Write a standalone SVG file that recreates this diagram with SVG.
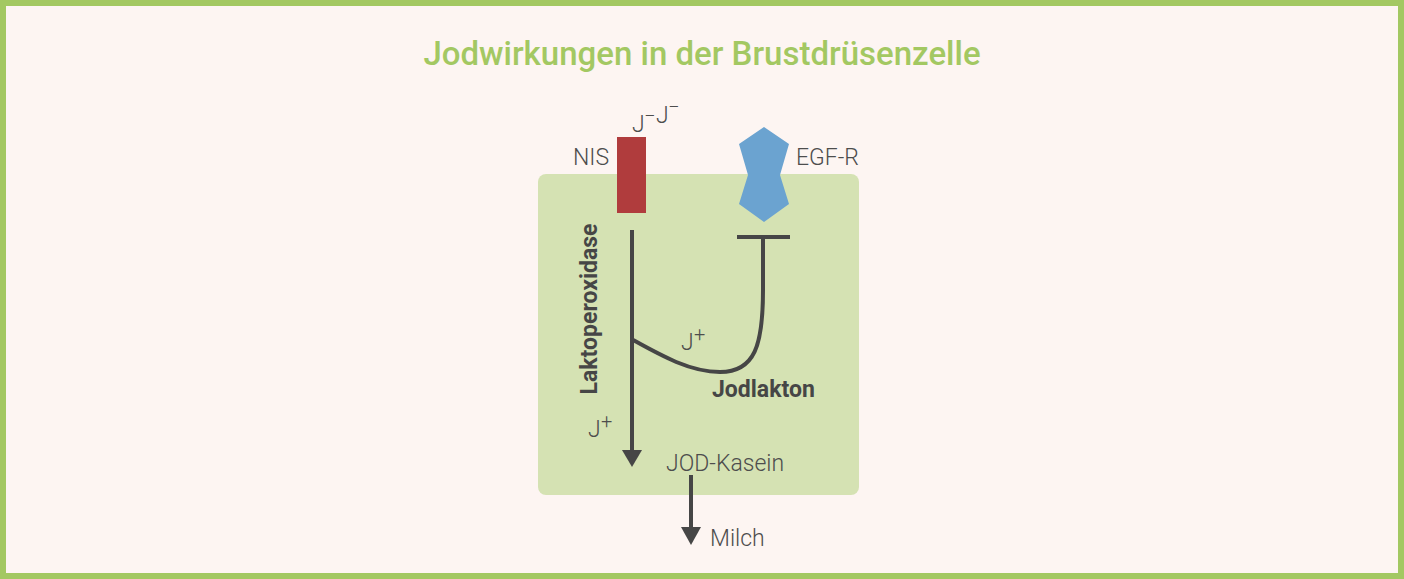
<svg xmlns="http://www.w3.org/2000/svg" width="1404" height="579" viewBox="0 0 1404 579">
<defs>
<style>
.t{font-family:Roboto,"Liberation Sans",sans-serif;font-size:23px;fill:#4d4d4d;font-weight:300}
.b{font-family:Roboto,"Liberation Sans",sans-serif;font-size:23px;fill:#464646;font-weight:700}
.sup{font-size:20px}
.ln{fill:none;stroke:#464646;stroke-width:4}
</style>
</defs>
<rect x="3" y="3" width="1398" height="573" fill="#fdf5f2" stroke="#a3c862" stroke-width="6"/>
<text x="702" y="65" text-anchor="middle" style="font-family:Roboto,'Liberation Sans',sans-serif;font-size:33px;font-weight:500;fill:#a3c862">Jodwirkungen in der Brustdrüsenzelle</text>
<g id="cell"><rect x="538" y="174" width="321" height="321" rx="8" fill="#d5e2b3"/></g>
<g id="nis">
<rect x="617" y="137" width="29" height="76" fill="#b03c3d"/>
<text class="t" x="573" y="165">NIS</text>
<text class="t" x="632" y="132">J</text><text class="t sup" x="644" y="123">−</text>
<text class="t" x="656" y="123">J</text><text class="t sup" x="668" y="114">−</text>
</g>
<g id="egfr">
<polygon points="764,127 789,144 780,175 789,204 764,222 739,204 748,175 739,144" fill="#6ba3d0"/>
<text class="t" x="796" y="165">EGF-R</text>
</g>
<g id="labels">
<text class="b" transform="translate(597,309) rotate(-90)" text-anchor="middle">Laktoperoxidase</text>
<text class="t" x="681" y="350">J</text><text class="t sup" x="694" y="341">+</text>
<text class="b" x="712" y="397">Jodlakton</text>
<text class="t" x="588" y="437">J</text><text class="t sup" x="601" y="428">+</text>
<text class="t" x="666" y="471">JOD-Kasein</text>
<text class="t" x="710" y="546">Milch</text>
</g>
<g id="connectors">
<path class="ln" d="M632,230 V452" />
<polygon points="622,450 642,450 632,467" fill="#464646"/>
<path class="ln" d="M691,475 V530" />
<polygon points="681,527 701,527 691,545" fill="#464646"/>
<path class="ln" d="M737,237 H790"/>
<path class="ln" d="M633,340 C660,355 690,372 720,372 C755,372 763,345 763,290 L763,237"/>
</g>
</svg>
